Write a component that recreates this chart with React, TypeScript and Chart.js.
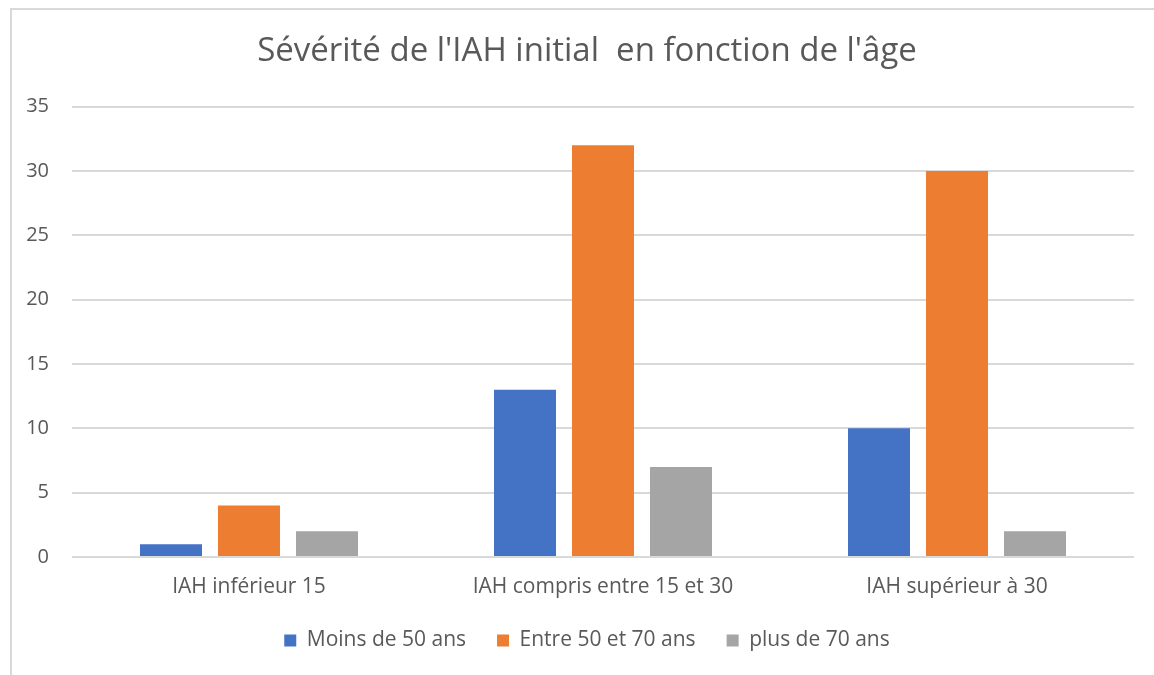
import React, { useEffect, useRef } from "react";
import { Chart, registerables } from "chart.js";

Chart.register(...registerables);

const TITLE = "Sévérité de l'IAH initial  en fonction de l'âge";
const categories = ["IAH inférieur 15", "IAH compris entre 15 et 30", "IAH supérieur à 30"];
const seriesNames = ["Moins de 50 ans", "Entre 50 et 70 ans", "plus de 70 ans"];
const moinsDe50 = [1, 13, 10];
const entre50et70 = [4, 32, 30];
const plusDe70 = [2, 7, 2];
const seriesColors = ["#4472C4", "#ED7D31", "#A5A5A5"];
const yMin = 0;
const yMax = 35;
const yStep = 5;

const FONT = "'Open Sans', 'Noto Sans', sans-serif";
const TEXT = "#595959";

export default function App() {
  const ref = useRef<HTMLCanvasElement | null>(null);
  useEffect(() => {
    if (!ref.current) return;
    const values = [moinsDe50, entre50et70, plusDe70];
    const chart = new Chart(ref.current, {
      type: "bar",
      data: {
        labels: categories,
        datasets: seriesNames.map((name, i) => ({
          label: name,
          data: values[i],
          backgroundColor: seriesColors[i],
          borderWidth: 0,
          categoryPercentage: 0.661,
          barPercentage: 0.795,
        })),
      },
      options: {
        responsive: false,
        animation: false,
        layout: { padding: { left: 20, right: 0, top: 0, bottom: 14 } },
        plugins: {
          tooltip: { enabled: false },
          title: {
            display: true,
            text: TITLE,
            color: TEXT,
            font: { family: FONT, size: 33, weight: "normal" },
            padding: { top: 32, bottom: 35 },
          },
          legend: {
            position: "bottom",
            labels: {
              color: TEXT,
              font: { family: FONT, size: 21 },
              boxWidth: 12,
              boxHeight: 12,
              padding: 31,
              useBorderRadius: false,
            },
          },
        },
        scales: {
          x: {
            grid: { display: false, drawTicks: false },
            border: { display: false },
            ticks: { color: TEXT, font: { family: FONT, size: 21 }, padding: 17 },
            afterFit: (s: any) => { s.height = 42; },
          },
          y: {
            min: yMin,
            max: yMax,
            grid: { color: "#d9d9d9", lineWidth: 2, drawTicks: false },
            border: { display: false },
            ticks: { stepSize: yStep, color: TEXT, font: { family: FONT, size: 20 }, padding: 23 },
            afterFit: (s: any) => { s.width = 52; },
          },
          yRight: {
            position: "right",
            display: true,
            grid: { display: false, drawTicks: false },
            border: { display: false },
            ticks: { display: false },
            afterFit: (s: any) => { s.width = 20; },
          },
        },
      },
    });
    return () => chart.destroy();
  }, []);
  return (
    <div style={{ position: "fixed", left: 0, top: 0, width: 1154, height: 675, background: "#fff", overflow: "hidden" }}>
      <div style={{ position: "absolute", left: 10, top: 8, width: 2000, height: 2000, borderLeft: "2px solid #d9d9d9", borderTop: "2px solid #d9d9d9" }} />
      <canvas ref={ref} width={1154} height={675} style={{ position: "absolute", left: 0, top: 0, width: 1154, height: 675 }} />
    </div>
  );
}
